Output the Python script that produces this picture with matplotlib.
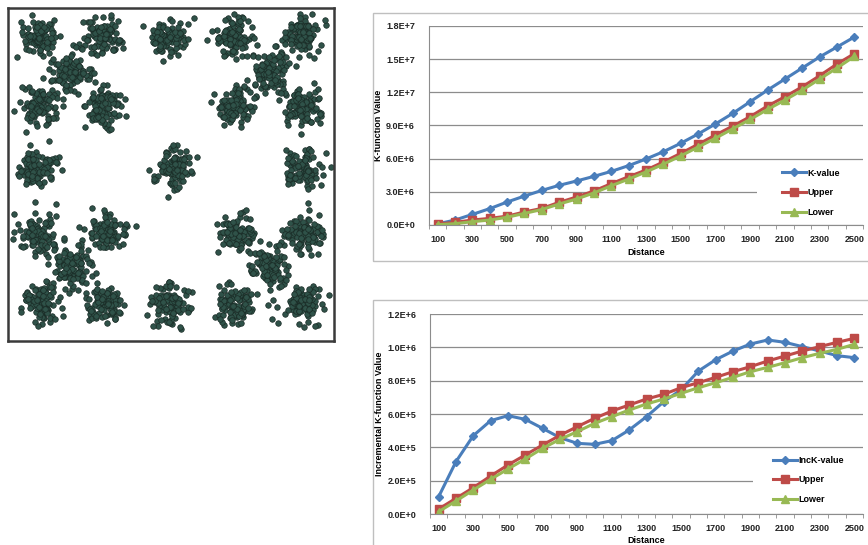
import numpy as np
import matplotlib
matplotlib.use("Agg")
import matplotlib.pyplot as plt
from matplotlib import font_manager
from matplotlib.patches import Rectangle
from matplotlib.ticker import FuncFormatter, FixedLocator

plt.rcParams['font.family'] = ['Liberation Sans', 'DejaVu Sans']

# narrow face for the y tick labels (Excel's Calibri is narrower than Arial)
try:
    font_manager.findfont('Liberation Sans Narrow', fallback_to_default=False)
    NARROW = 'Liberation Sans Narrow'
except ValueError:
    NARROW = 'Liberation Sans'

# distance classes (x axis of both line charts)
distance = list(range(100, 2600, 100))

# K-function chart
k_value = [0.10e6, 0.45e6, 0.96e6, 1.48e6, 2.08e6, 2.62e6, 3.13e6, 3.59e6, 3.98e6, 4.40e6,
           4.85e6, 5.37e6, 5.97e6, 6.63e6, 7.39e6, 8.23e6, 9.14e6, 10.1e6, 11.15e6, 12.2e6,
           13.2e6, 14.2e6, 15.2e6, 16.1e6, 17.0e6]
k_upper = [0.09e6, 0.24e6, 0.45e6, 0.60e6, 0.80e6, 1.18e6, 1.50e6, 2.05e6, 2.53e6, 3.08e6,
           3.74e6, 4.37e6, 4.97e6, 5.70e6, 6.48e6, 7.30e6, 8.14e6, 8.95e6, 9.80e6, 10.76e6,
           11.6e6, 12.5e6, 13.5e6, 14.56e6, 15.5e6]
k_lower = [0.03e6, 0.12e6, 0.30e6, 0.45e6, 0.70e6, 1.05e6, 1.40e6, 1.90e6, 2.35e6, 2.90e6,
           3.55e6, 4.15e6, 4.80e6, 5.50e6, 6.25e6, 7.05e6, 7.85e6, 8.70e6, 9.55e6, 10.45e6,
           11.3e6, 12.2e6, 13.2e6, 14.2e6, 15.25e6]

# incremental K-function chart
inck_value = [1.04e5, 3.14e5, 4.70e5, 5.60e5, 5.90e5, 5.68e5, 5.14e5, 4.58e5, 4.24e5, 4.18e5,
              4.40e5, 5.04e5, 5.84e5, 6.74e5, 7.46e5, 8.58e5, 9.26e5, 9.78e5, 10.2e5, 10.44e5,
              10.3e5, 10.04e5, 9.78e5, 9.50e5, 9.38e5]
inck_upper = [0.30e5, 0.94e5, 1.58e5, 2.28e5, 2.94e5, 3.54e5, 4.14e5, 4.72e5, 5.24e5, 5.74e5,
              6.18e5, 6.54e5, 6.90e5, 7.18e5, 7.58e5, 7.88e5, 8.20e5, 8.54e5, 8.84e5, 9.18e5,
              9.48e5, 9.78e5, 10.04e5, 10.3e5, 10.54e5]
inck_lower = [0.14e5, 0.78e5, 1.44e5, 2.08e5, 2.70e5, 3.30e5, 3.94e5, 4.48e5, 4.94e5, 5.44e5,
              5.84e5, 6.24e5, 6.60e5, 6.90e5, 7.24e5, 7.58e5, 7.88e5, 8.20e5, 8.54e5, 8.80e5,
              9.08e5, 9.38e5, 9.64e5, 9.88e5, 10.18e5]

# clustered point pattern: cluster centres (study area 0..1000)
cluster_x = [100, 294, 497, 691, 900,
             197, 803,
             100, 299, 691, 900,
             90, 508, 900,
             95, 299, 701, 910,
             197, 798,
             100, 304, 497, 696, 900]
cluster_y = [915, 915, 915, 915, 915,
             809, 809,
             704, 704, 704, 704,
             519, 519, 519,
             323, 323, 323, 323,
             223, 223,
             112, 112, 112, 112, 112]
points_per_cluster = 100

BLUE = '#4A7EBB'
RED = '#BE4B48'
GREEN = '#98B954'
GRID = '#8C8C8C'
FS = 6.5

fig = plt.figure(figsize=(8.68, 5.45), dpi=100)
W, H = 868, 545


def fig_box(x0, y0, x1, y1):
    # pixel box (top-left origin) -> figure fraction rect
    return [x0 / W, 1 - y1 / H, (x1 - x0) / W, (y1 - y0) / H]


# ---- left: point pattern ----
ax0 = fig.add_axes(fig_box(8, 8, 334, 341))
# individual points can't be read off the picture, so each cluster gets a
# fixed-seed cloud around its centre
rng = np.random.default_rng(7)
px, py = [], []
for cx, cy in zip(cluster_x, cluster_y):
    px.append(cx + rng.normal(0, 29, points_per_cluster))
    py.append(cy + rng.normal(0, 29, points_per_cluster))
px = np.concatenate(px)
py = np.concatenate(py)
ax0.scatter(px, py, marker='o', s=16, facecolor='#2f5249', edgecolor='#1a2b26',
            linewidths=0.5)
ax0.set_xlim(0, 1000)
ax0.set_ylim(0, 1000)
ax0.set_xticks([])
ax0.set_yticks([])
for s in ax0.spines.values():
    s.set_linewidth(1.8)
    s.set_color('#3a3a3a')


def sci_fmt(v, pos):
    if v == 0:
        return '0.0E+0'
    e = int(np.floor(np.log10(abs(v)) + 1e-9))
    return f'{v / 10 ** e:.1f}E+{e}'


def style_chart(ax, ymax, ystep, ylabel, ylab_x, xlab_y):
    n = len(distance)
    ax.set_xlim(-0.5, n - 0.5)
    ax.set_ylim(0, ymax)
    ax.yaxis.set_major_locator(FixedLocator(np.arange(0, ymax + ystep / 2, ystep)))
    ax.yaxis.set_major_formatter(FuncFormatter(sci_fmt))
    ax.grid(axis='y', color=GRID, linewidth=0.9)
    ax.set_axisbelow(True)
    for side in ['top', 'right']:
        ax.spines[side].set_visible(False)
    ax.spines['left'].set_color(GRID)
    ax.spines['bottom'].set_color(GRID)
    ax.set_xticks(range(0, n, 2), [str(d) for d in distance[::2]])
    ax.set_xticks(np.arange(-0.5, n), minor=True)
    ax.tick_params(axis='x', which='major', length=0, pad=7)
    ax.tick_params(axis='x', which='minor', length=3, color=GRID, direction='out')
    ax.tick_params(axis='y', length=0, pad=10)
    for lab in ax.get_xticklabels() + ax.get_yticklabels():
        lab.set_fontsize(FS)
        lab.set_fontweight('bold')
        lab.set_color('#222222')
    for lab in ax.get_yticklabels():
        lab.set_fontfamily(NARROW)
    ax.set_xlabel('Distance', fontsize=FS, fontweight='bold')
    ax.set_ylabel(ylabel, fontsize=FS, fontweight='bold')
    ax.xaxis.set_label_coords(0.5, xlab_y)
    ax.yaxis.set_label_coords(ylab_x, 0.5)


def add_series(ax, values, color, marker, ms, label):
    ax.plot(range(len(distance)), values, color=color, linewidth=2.2, marker=marker,
            markersize=ms, markerfacecolor=color, markeredgecolor=color, label=label)


def add_legend(ax, box_x, box_top, hx, hy):
    # white patch behind the legend hides the gridlines, like the Excel legend box
    ax.add_patch(Rectangle((box_x, 0.004), 1 - box_x, box_top - 0.004,
                           transform=ax.transAxes, facecolor='white', edgecolor='none',
                           zorder=1))
    ax.legend(loc='center left', bbox_to_anchor=(hx, hy), frameon=False,
              handlelength=2.7, handletextpad=0.15, labelspacing=1.2, borderpad=0,
              borderaxespad=0, prop={'size': FS, 'weight': 'bold'})


# frames of the two chart areas
fig.patches.append(Rectangle((373 / W, 1 - 261 / H), 500 / W, 248 / H, transform=fig.transFigure,
                             fill=False, edgecolor='#BFBFBF', linewidth=1))
fig.patches.append(Rectangle((373 / W, -0.05), 500 / W, 1 - 300 / H + 0.05,
                             transform=fig.transFigure, fill=False, edgecolor='#BFBFBF',
                             linewidth=1))

# ---- top right: K-function ----
ax1 = fig.add_axes(fig_box(429, 26, 863, 225))
add_series(ax1, k_value, BLUE, 'D', 4.5, 'K-value')
add_series(ax1, k_upper, RED, 's', 5.5, 'Upper')
add_series(ax1, k_lower, GREEN, '^', 5.5, 'Lower')
style_chart(ax1, 1.8e7, 3e6, 'K-function Value', -0.106, -0.116)
add_legend(ax1, 0.756, 0.31, 0.813, 0.161)

# ---- bottom right: incremental K-function ----
ax2 = fig.add_axes(fig_box(430, 314, 863, 514))
add_series(ax2, inck_value, BLUE, 'D', 4.5, 'IncK-value')
add_series(ax2, inck_upper, RED, 's', 5.5, 'Upper')
add_series(ax2, inck_lower, GREEN, '^', 5.5, 'Lower')
style_chart(ax2, 1.2e6, 2e5, 'Incremental K-function Value', -0.106, -0.11)
add_legend(ax2, 0.746, 0.32, 0.792, 0.17)

fig.savefig('out.png', dpi=100)
